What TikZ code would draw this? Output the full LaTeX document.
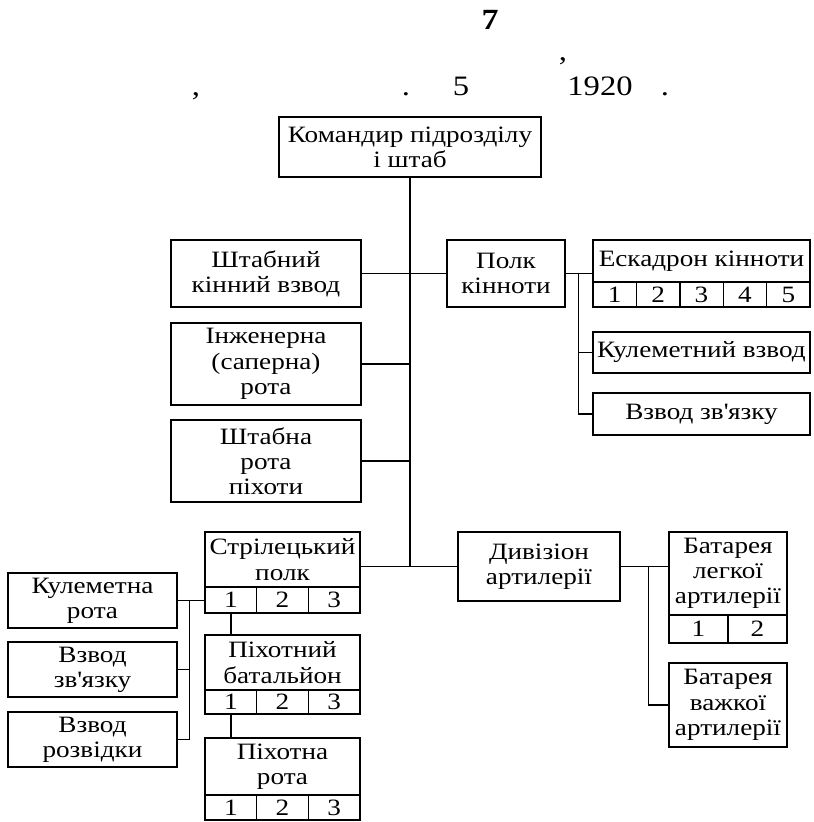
\documentclass[tikz,border=0pt]{standalone}
\usepackage{fontspec}
\setmainfont{Liberation Serif}[FakeStretch=1.16]
\usetikzlibrary{positioning, calc}

\tikzset{
  unitbox/.style={draw, line width=1.2pt, align=center, inner sep=0pt,
    font=\fontsize{20}{21.5}\selectfont},
  cellbox/.style={unitbox},
  link/.style={line width=1.2pt},
  head/.style={anchor=base, inner sep=0pt, font=\fontsize{24}{24}\selectfont},
}

\begin{document}
\begin{tikzpicture}[x=0.3mm, y=-0.3mm]
  \useasboundingbox (0,0) rectangle (813,822);
  % caption
  \node[head, font=\fontsize{25}{25}\selectfont\bfseries] (num) at (490,29) {7};
  \node[head] (cm1) at (563,60) {,};
  \node[head] (cm2) at (196,95) {,};
  \node[head] (dt1) at (406,95) {.};
  \node[head] (day) at (461,95) {5};
  \node[head] (year) at (600,95) {1920};
  \node[head] (dt2) at (665,95) {.};

  % headquarters and staff units
  \node[unitbox, minimum width=78.6mm, minimum height=18mm] (cmd) at (410,147) {Командир підрозділу\\і штаб};
  \node[unitbox, minimum width=57mm, minimum height=20.1mm] (shtk) at (266,273.5) {Штабний\\кінний взвод};
  \node[unitbox, minimum width=57mm, minimum height=24.6mm] (inzh) at (266,364) {Інженерна\\(саперна)\\рота};
  \node[unitbox, minimum width=57mm, minimum height=24.6mm] (shtr) at (266,461) {Штабна\\рота\\піхоти};

  % cavalry
  \node[unitbox, minimum width=35.4mm, minimum height=20.1mm] (polk) at (506,273.5) {Полк\\кінноти};
  \node[unitbox, minimum width=65.1mm, minimum height=12.6mm] (esk) at (701.5,261) {Ескадрон кінноти};
  \foreach \i in {1,...,5}
    \node[cellbox, minimum width=13.02mm, minimum height=7.5mm] (esk\i) at ({593+43.4*(\i-0.5)},294.5) {\i};
  \node[unitbox, minimum width=65.1mm, minimum height=12.3mm] (kulvzv) at (701.5,352.5) {Кулеметний взвод};
  \node[unitbox, minimum width=65.1mm, minimum height=12.6mm] (vzv) at (701.5,414) {Взвод зв\textquotesingle язку};

  % infantry
  \node[unitbox, minimum width=46.5mm, minimum height=16.5mm] (stril) at (282.5,559.5) {Стрілецький\\полк};
  \foreach \i in {1,2,3}
    \node[cellbox, minimum width=15.5mm, minimum height=7.8mm] (stril\i) at ({205+51.67*(\i-0.5)},600) {\i};
  \node[unitbox, minimum width=46.5mm, minimum height=16.5mm] (pbat) at (282.5,662.5) {Піхотний\\батальйон};
  \foreach \i in {1,2,3}
    \node[cellbox, minimum width=15.5mm, minimum height=7.2mm] (pbat\i) at ({205+51.67*(\i-0.5)},702) {\i};
  \node[unitbox, minimum width=46.5mm, minimum height=17.1mm] (prota) at (282.5,766.5) {Піхотна\\рота};
  \foreach \i in {1,2,3}
    \node[cellbox, minimum width=15.5mm, minimum height=7.5mm] (prota\i) at ({205+51.67*(\i-0.5)},807.5) {\i};
  \node[unitbox, minimum width=50.7mm, minimum height=16.5mm] (kulr) at (92.5,600.5) {Кулеметна\\рота};
  \node[unitbox, minimum width=50.7mm, minimum height=16.5mm] (vzz) at (92.5,669.5) {Взвод\\зв\textquotesingle язку};
  \node[unitbox, minimum width=50.7mm, minimum height=16.5mm] (rozv) at (92.5,739.5) {Взвод\\розвідки};

  % artillery
  \node[unitbox, minimum width=48.6mm, minimum height=20.7mm] (div) at (539,566.5) {Дивізіон\\артилерії};
  \node[unitbox, minimum width=35.4mm, minimum height=24.9mm] (batl) at (728,573.5) {Батарея\\легкої\\артилерії};
  \foreach \i in {1,2}
    \node[cellbox, minimum width=17.7mm, minimum height=8.4mm] (batl\i) at ({669+59*(\i-0.5)},629) {\i};
  \node[unitbox, minimum width=35.4mm, minimum height=25.2mm] (batv) at (728,705) {Батарея\\важкої\\артилерії};

  % connectors
  \draw[link] (cmd.south) -- (cmd.south |- div.west);
  \draw[link] (shtk.east) -- (polk.west);
  \draw[link] (inzh.east) -- (inzh.east -| cmd.south);
  \draw[link] (shtr.east) -- (shtr.east -| cmd.south);
  \draw[link] (stril.east |- div.west) -- (div.west);

  \coordinate (pk) at ($(polk.east)+(13,0)$);
  \draw[link] (polk.east) -- (polk.east -| esk.west);
  \draw[link] (pk) |- (vzv.west);
  \draw[link] (pk |- kulvzv.west) -- (kulvzv.west);

  \coordinate (dv) at ($(div.east)+(28,0)$);
  \draw[link] (div.east) -- (div.east -| batl.west);
  \draw[link] (dv) |- (batv.west);

  \coordinate (sp) at ($(kulr.east)+(12,0)$);
  \draw[link] (kulr.east) -- (kulr.east -| stril1.west);
  \draw[link] (sp) |- (rozv.east);
  \draw[link] (vzz.east) -- (vzz.east -| sp);
  \draw[link] (stril1.south) -- (stril1.south |- pbat.north);
  \draw[link] (pbat1.south) -- (pbat1.south |- prota.north);
\end{tikzpicture}
\end{document}
